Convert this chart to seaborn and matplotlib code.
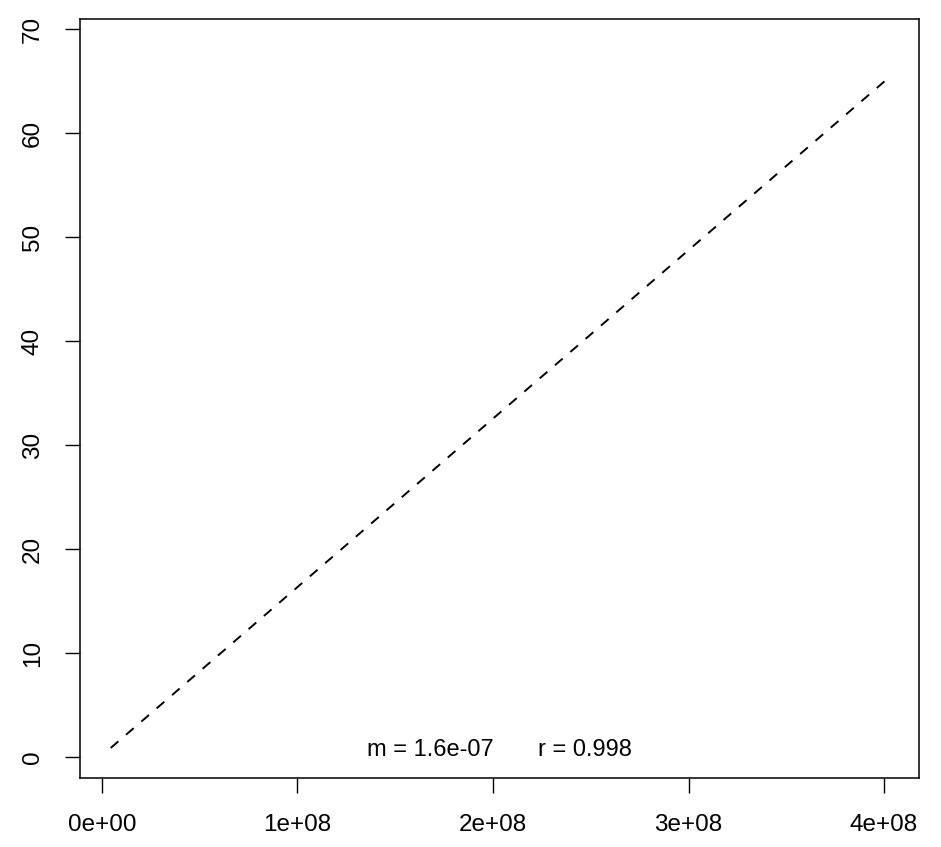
import numpy as np
import pandas as pd
import matplotlib
matplotlib.use("Agg")
import matplotlib.pyplot as plt
import seaborn as sns

# fitted line end points
fit_x = [4.45e6, 4.017e8]
fit_y = [0.87, 65.2]

x_ticks = [0, 1e8, 2e8, 3e8, 4e8]
x_tick_labels = ["0e+00", "1e+08", "2e+08", "3e+08", "4e+08"]
y_ticks = [0, 10, 20, 30, 40, 50, 60, 70]

slope_label = "m = 1.6e-07"
r_label = "r = 0.998"

sns.set_style("white")
plt.rcParams['font.family'] = ['Liberation Sans', 'DejaVu Sans']
plt.rcParams['text.color'] = 'black'
plt.rcParams['xtick.color'] = 'black'
plt.rcParams['ytick.color'] = 'black'

fig = plt.figure(figsize=(9.41, 8.47), dpi=100)
ax = fig.add_axes([80 / 941, (847 - 778) / 847, 839 / 941, 759 / 847])

df = pd.DataFrame({"x": fit_x, "y": fit_y})
sns.lineplot(data=df, x="x", y="y", ax=ax, color="black", linewidth=1.4,
             linestyle=(0, (5.2, 5.2)))

ax.set_xlim(-1.125e7, 4.179e8)
ax.set_ylim(-2.02, 70.96)

ax.set_xticks(x_ticks)
ax.set_xticklabels(x_tick_labels)
ax.set_yticks(y_ticks)
ax.set_yticklabels([str(v) for v in y_ticks], rotation=90, va="center")
ax.tick_params(axis="both", direction="out", length=11, width=1.0,
               labelsize=17.5, pad=15, labelcolor="black", color="black",
               left=True, bottom=True)
ax.set_xlabel("")
ax.set_ylabel("")

for s in ax.spines.values():
    s.set_visible(True)
    s.set_color("black")
    s.set_linewidth(1.1)

ax.text(1.68e8, 0.67, slope_label, ha="center", va="center", fontsize=17)
ax.text(2.47e8, 0.67, r_label, ha="center", va="center", fontsize=17)

fig.savefig("out.png", dpi=100)
